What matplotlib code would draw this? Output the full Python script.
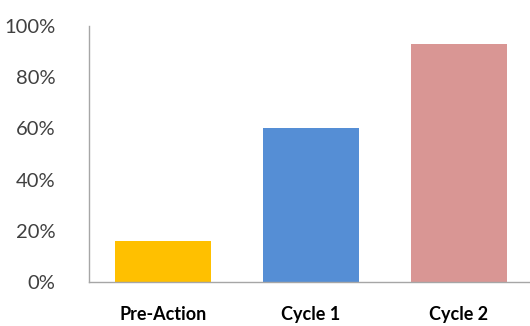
import matplotlib
matplotlib.use("Agg")
import matplotlib.pyplot as plt
from matplotlib.ticker import FuncFormatter

categories = ["Pre-Action", "Cycle 1", "Cycle 2"]
values = [16, 60, 93]
colors = ["#FFC000", "#558ED5", "#D99694"]
yticks = [0, 20, 40, 60, 80, 100]

plt.rcParams['font.family'] = ['Lato', 'DejaVu Sans']

fig = plt.figure(figsize=(5.3, 3.26), dpi=100)
W, H = 530, 326
ax = fig.add_axes([89 / W, (H - 282) / H, (530 - 89) / W, (282 - 26) / H])

x = list(range(len(categories)))
ax.bar(x, values, width=0.65, color=colors, zorder=2)

ax.set_ylim(0, 100)
ax.set_xlim(-0.5, -0.5 + 441 / 148)
ax.set_yticks(yticks)
ax.yaxis.set_major_formatter(FuncFormatter(lambda v, p: f"{int(v)}%"))
ax.tick_params(axis='y', length=0, pad=24, labelsize=14.5, labelcolor="#404040")
ax.set_xticks(x)
ax.set_xticklabels(categories, fontweight='bold', fontsize=13, color="#000000")
ax.tick_params(axis='x', length=0, pad=17)

for s in ["top", "right"]:
    ax.spines[s].set_visible(False)
for s in ["left", "bottom"]:
    ax.spines[s].set_color("#A6A6A6")
    ax.spines[s].set_linewidth(1.0)

fig.savefig("out.png", dpi=100)
